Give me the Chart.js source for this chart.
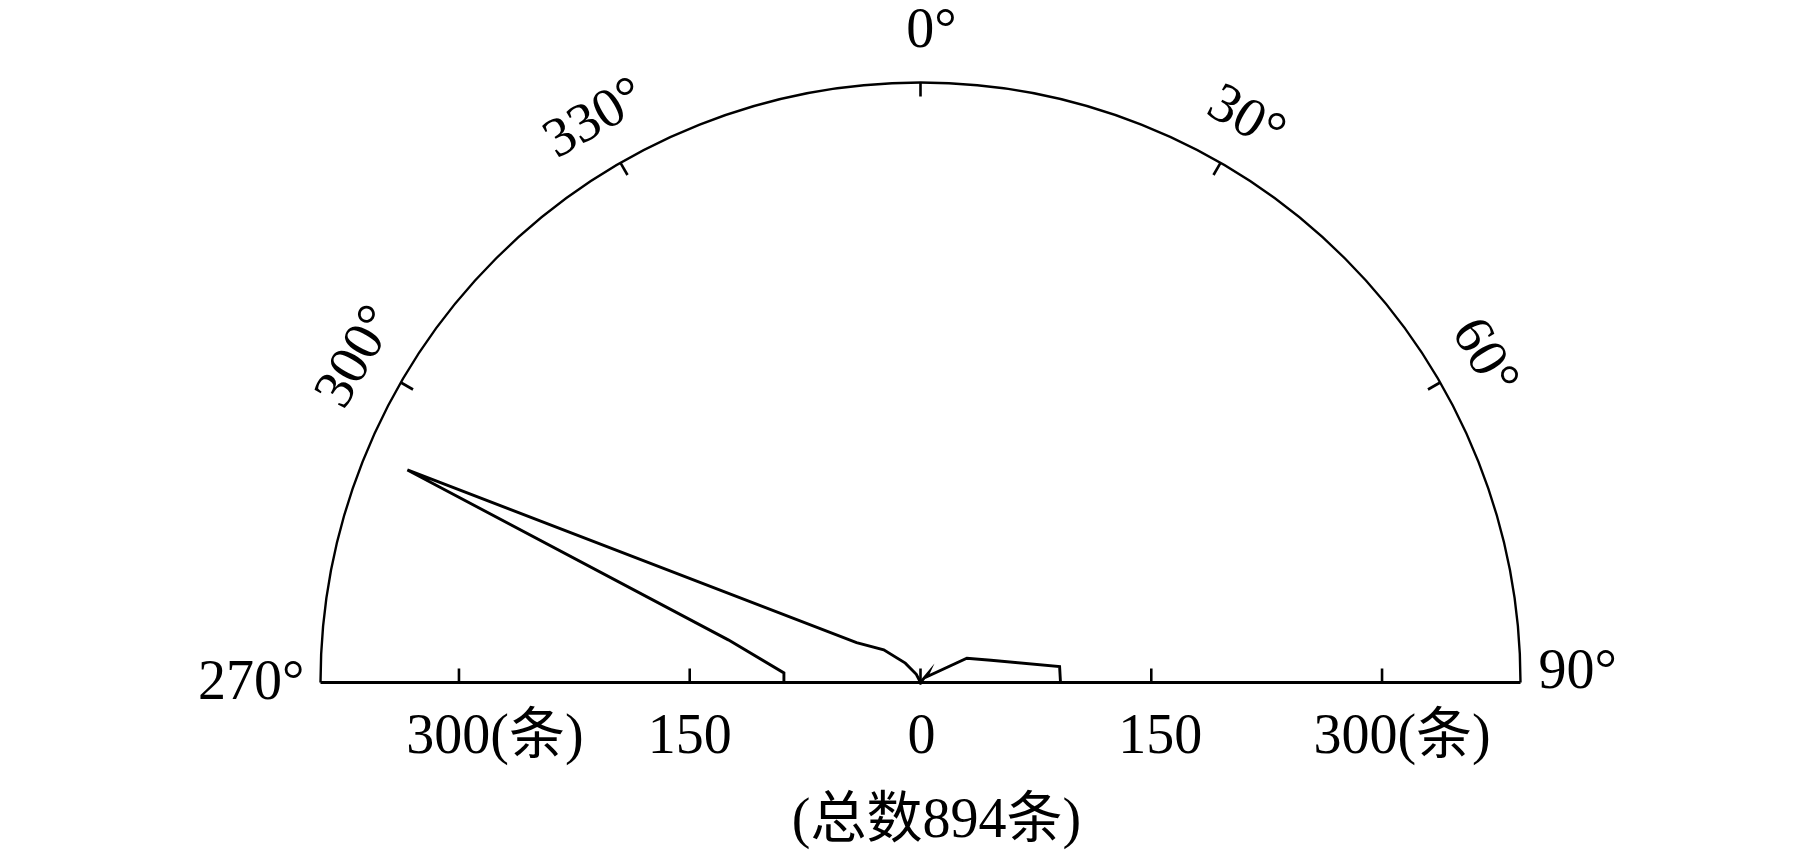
<!DOCTYPE html>
<html>
<head>
<meta charset="utf-8">
<script src="https://cdn.jsdelivr.net/npm/chart.js@4"></script>
<style>
  html, body { margin: 0; padding: 0; background: #fff; }
  #wrap { width: 1800px; height: 855px; }
</style>
</head>
<body>
<div id="wrap"><canvas id="rose" width="1800" height="855"></canvas></div>
<script>
// rose diagram: direction (deg, clockwise from north) -> count
const roseAngles = [270, 274, 282.5, 292.5, 302, 311.7, 321.9, 333, 342.5, 352.5, 2.5, 12.5, 22.5, 40, 47, 62.4, 72.5, 83.5, 90];
const roseCounts = [89, 89, 128, 361, 49, 32, 16, 6, 0, 0, 0, 0, 0, 8, 5.5, 34, 48, 91, 91];

const maxCount = 390;
const angleTicks = [270, 300, 330, 0, 30, 60, 90];
const angleLabels = ["270°", "300°", "330°", "0°", "30°", "60°", "90°"];
const countTicks = [-300, -150, 0, 150, 300];
const countLabels = ["300(条)", "150", "0", "150", "300(条)"];
const totalLabel = "(总数894条)";

const FONT = '56px "Liberation Serif", "Times New Roman", "Noto Sans CJK SC", serif';
const rad = d => d * Math.PI / 180;

const points = roseAngles.map((a, i) => ({
  x: roseCounts[i] * Math.sin(rad(a)),
  y: roseCounts[i] * Math.cos(rad(a))
}));

const framePlugin = {
  id: "roseFrame",
  afterDatasetsDraw(chart) {
    const { ctx, scales: { x, y } } = chart;
    const cx = x.getPixelForValue(0);
    const cy = y.getPixelForValue(0);
    const R = x.getPixelForValue(maxCount) - cx;
    ctx.save();
    ctx.strokeStyle = "#000";
    ctx.fillStyle = "#000";

    // outer half circle
    ctx.lineWidth = 2.4;
    ctx.beginPath();
    ctx.arc(cx, cy, R, Math.PI, 2 * Math.PI);
    ctx.stroke();

    // baseline
    ctx.lineWidth = 2.8;
    ctx.beginPath();
    ctx.moveTo(cx - R, cy);
    ctx.lineTo(cx + R, cy);
    ctx.stroke();

    // ticks on the baseline
    ctx.lineWidth = 2.6;
    countTicks.forEach(v => {
      const px = x.getPixelForValue(v);
      ctx.beginPath();
      ctx.moveTo(px, cy + (v === 0 ? 2 : 0));
      ctx.lineTo(px, cy - 14);
      ctx.stroke();
    });

    // ticks on the arc (inward)
    angleTicks.forEach(a => {
      if (a === 270 || a === 90) return;
      const s = Math.sin(rad(a)), c = Math.cos(rad(a));
      ctx.beginPath();
      ctx.moveTo(cx + s * R, cy - c * R);
      ctx.lineTo(cx + s * (R - 14), cy - c * (R - 14));
      ctx.stroke();
    });

    ctx.font = FONT;
    ctx.textBaseline = "middle";

    // angle labels
    angleTicks.forEach((a, i) => {
      const txt = angleLabels[i];
      if (a === 270) {
        ctx.textAlign = "right";
        ctx.fillText(txt, cx - R - 16, cy + 2);
        return;
      }
      if (a === 90) {
        ctx.textAlign = "left";
        ctx.fillText(txt, cx + R + 18, cy - 9);
        return;
      }
      const rr = R + 50;
      const s = Math.sin(rad(a)), c = Math.cos(rad(a));
      ctx.save();
      ctx.translate(cx + s * rr, cy - c * rr);
      ctx.rotate(rad(a > 180 ? a - 360 : a));
      ctx.textAlign = "center";
      const shift = a === 0 ? 11 : 0;
      ctx.fillText(txt, shift, 0);
      ctx.restore();
    });

    // count labels
    const nudge = [36, 0, 1, 9, 20];
    ctx.textAlign = "center";
    countTicks.forEach((v, i) => {
      ctx.fillText(countLabels[i], x.getPixelForValue(v) + nudge[i], cy + 56);
    });

    ctx.fillText(totalLabel, cx + 16, cy + 140);
    ctx.restore();
  }
};

new Chart(document.getElementById("rose"), {
  type: "scatter",
  data: {
    datasets: [{
      data: points,
      showLine: true,
      borderColor: "#000",
      borderWidth: 2.9,
      pointRadius: 0,
      fill: false,
      tension: 0,
      clip: false
    }]
  },
  options: {
    responsive: false,
    animation: false,
    devicePixelRatio: 1,
    layout: { padding: { left: 320.5, right: 279.5, top: 82.5, bottom: 172.5 } },
    plugins: { legend: { display: false }, tooltip: { enabled: false } },
    scales: {
      x: { type: "linear", min: -maxCount, max: maxCount, display: false },
      y: { type: "linear", min: 0, max: maxCount, display: false }
    }
  },
  plugins: [framePlugin]
});
</script>
</body>
</html>
